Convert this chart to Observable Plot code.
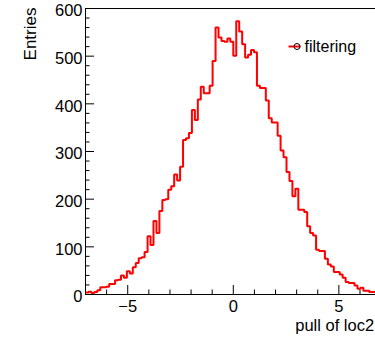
<!DOCTYPE html>
<html>
<head>
<meta charset="utf-8">
<script src="https://cdn.jsdelivr.net/npm/d3@7"></script>
<script src="https://cdn.jsdelivr.net/npm/@observablehq/plot@0.6"></script>
<style>
  html, body { margin: 0; padding: 0; background: #fff; overflow: hidden; }
</style>
</head>
<body>
<div id="chart"></div>
<script>
// Histogram of the loc2 pull: 100 equal bins spanning [-7, 7]
const xRange = [-7, 7];
const counts = [
    4,   6,   3,   5,   9,  15,  15,  16,  22,  22,
   30,  31,  40,  35,  49,  44,  57,  66,  76,  78,
   89, 122, 104, 154, 129, 175, 198, 200, 220, 227,
  252, 239, 268, 324, 328, 339, 387, 366, 409, 436,
  422, 422, 438, 490, 560, 539, 532, 530, 537, 530,
  501, 573, 552, 525, 497, 503, 513, 508, 438, 433,
  433, 407, 370, 361, 361, 333, 302, 288, 257, 238,
  206, 222, 178, 178, 173, 143, 129, 124,  94,  91,
   91,  75,  63,  59,  47,  47,  42,  35,  26,  24,
   24,  19,  12,  14,   8,   8,   5,   5,   4,   3
];
const yRange = [0, 600];

// Axis ticks and texts
const xMajorTicks = [-5, 0, 5];
const xMinorTicks = [-6, -4, -3, -2, -1, 1, 2, 3, 4, 6];
const yMajorTicks = [0, 100, 200, 300, 400, 500, 600];
const yMinorTicks = d3.range(20, 600, 20).filter(v => v % 100 !== 0);
const xTitle = "pull of loc2";
const yTitle = "Entries";
const seriesName = "filtering";

// Canvas layout (the frame runs on past the right edge of the page)
const W = 400, H = 337;
const mL = 85, mR = 19.4, mT = 8, mB = 43;
const plotW = W - mL - mR;
const plotH = H - mT - mB;

// Step outline: each bin's low edge, then the closing high edge
const binWidth = (xRange[1] - xRange[0]) / counts.length;
const outline = counts.map((n, i) => ({x: xRange[0] + i * binWidth, n}));
outline.push({x: xRange[1], n: counts[counts.length - 1]});

const red = "#ff0000";
const lineSymbol = {draw(ctx) { ctx.moveTo(-6, 0); ctx.lineTo(6, 0); }};

const chart = Plot.plot({
  width: W,
  height: H,
  marginLeft: mL,
  marginRight: mR,
  marginTop: mT,
  marginBottom: mB,
  style: {
    fontFamily: "'Liberation Sans', Arial, Helvetica, sans-serif",
    fontSize: "16.5px",
    color: "#000",
    background: "#fff",
    maxWidth: "none"
  },
  x: {domain: xRange},
  y: {domain: yRange},
  marks: [
    Plot.frame({stroke: "#000", strokeWidth: 1}),

    // inward tick marks along the left and bottom edges
    Plot.tickY(yMinorTicks, {y: d => d, insetRight: plotW - 4.5, stroke: "#000"}),
    Plot.tickY(yMajorTicks, {y: d => d, insetRight: plotW - 9, stroke: "#000"}),
    Plot.tickX(xMinorTicks, {x: d => d, insetTop: plotH - 4.5, stroke: "#000"}),
    Plot.tickX(xMajorTicks, {x: d => d, insetTop: plotH - 9, stroke: "#000"}),

    Plot.axisY({ticks: yMajorTicks, tickSize: 0, tickPadding: 3, dy: 2.5, label: null}),
    Plot.axisX({ticks: xMajorTicks, tickSize: 0, tickPadding: 6, label: null}),

    Plot.line(outline, {
      x: "x", y: "n", curve: "step-after",
      stroke: red, strokeWidth: 2, strokeLinejoin: "miter", strokeLinecap: "butt"
    }),

    // axis titles
    Plot.text([yTitle], {
      text: d => d, frameAnchor: "top-left", rotate: -90,
      textAnchor: "end", lineAnchor: "middle", dx: -54.5, dy: -1, fontSize: 17
    }),
    Plot.text([xTitle], {
      text: d => d, frameAnchor: "bottom-right",
      textAnchor: "end", lineAnchor: "top", dx: -7, dy: 24.3, fontSize: 16.5
    }),

    // legend entry
    Plot.dot([seriesName], {
      frameAnchor: "top-left", dx: 209, dy: 38,
      symbol: lineSymbol, stroke: red, strokeWidth: 2, fill: "none"
    }),
    Plot.dot([seriesName], {
      frameAnchor: "top-left", dx: 211.5, dy: 38,
      r: 3, stroke: "#000", strokeWidth: 1, fill: "none"
    }),
    Plot.text([seriesName], {
      text: d => d, frameAnchor: "top-left",
      textAnchor: "start", lineAnchor: "middle", dx: 219, dy: 38, fontSize: 16
    })
  ]
});

document.getElementById("chart").append(chart);
</script>
</body>
</html>
